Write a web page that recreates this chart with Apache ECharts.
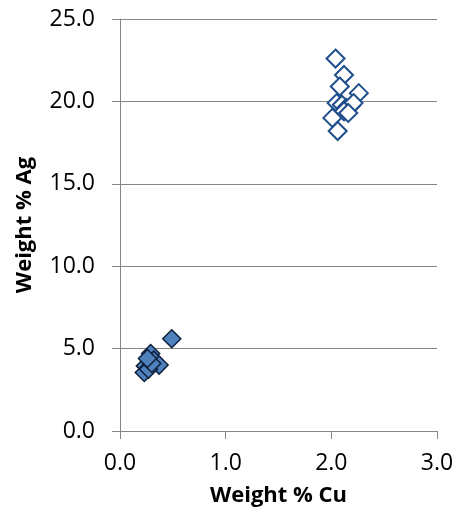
<!DOCTYPE html>
<html><head><meta charset="utf-8">
<script src="https://cdn.jsdelivr.net/npm/echarts@6/dist/echarts.min.js"></script>
<style>html,body{margin:0;padding:0;background:#fff}#c{width:462px;height:512px}</style>
</head><body><div id="c"></div>
<script>
var xTitle = 'Weight % Cu';
var yTitle = 'Weight % Ag';
var lowCu = [0.49, 0.29, 0.32, 0.24, 0.37, 0.23, 0.27, 0.30, 0.26];
var lowAg = [5.6, 4.7, 4.3, 3.95, 4.0, 3.55, 3.75, 4.1, 4.4];
var highCu = [2.04, 2.12, 2.08, 2.26, 2.05, 2.10, 2.14, 2.18, 2.21, 2.12, 2.16, 2.01, 2.06];
var highAg = [22.6, 21.6, 20.9, 20.5, 19.9, 19.8, 19.6, 19.7, 19.9, 19.4, 19.3, 19.0, 18.2];
function pairs(a, b){ return a.map(function(v,i){ return [v, b[i]]; }); }
var font = 'Open Sans';
var axisCol = '#868686';
var chart = echarts.init(document.getElementById('c'));
chart.setOption({
  animation: false,
  grid: {left: 120, right: 25, top: 19, bottom: 78},
  xAxis: {
    type: 'value', min: 0, max: 3, interval: 1,
    name: xTitle, nameLocation: 'middle', nameGap: 54,
    nameTextStyle: {fontFamily: font, fontSize: 22, fontWeight: 'bold', color: '#000'},
    axisLine: {show: true, onZero: false, lineStyle: {color: axisCol, width: 1}},
    axisTick: {show: true, length: 8, lineStyle: {color: axisCol}},
    axisLabel: {margin: 21, fontFamily: font, fontSize: 23, color: '#000', formatter: function(v){return v.toFixed(1);}},
    splitLine: {show: false}
  },
  yAxis: {
    type: 'value', min: 0, max: 25, interval: 5,
    name: yTitle, nameLocation: 'middle', nameGap: 84,
    nameTextStyle: {fontFamily: font, fontSize: 22, fontWeight: 'bold', color: '#000'},
    axisLine: {show: true, onZero: false, lineStyle: {color: axisCol, width: 1}},
    axisTick: {show: true, length: 8, lineStyle: {color: axisCol}},
    axisLabel: {margin: 25, fontFamily: font, fontSize: 23, color: '#000', formatter: function(v){return v.toFixed(1);}},
    splitLine: {show: true, lineStyle: {color: axisCol, width: 1}}
  },
  series: [
    {type: 'scatter', data: pairs(lowCu, lowAg), symbol: 'diamond', symbolSize: 18,
     itemStyle: {color: '#4F81BD', borderColor: '#0d1f3a', borderWidth: 1.5, opacity: 1}},
    {type: 'scatter', data: pairs(highCu, highAg), symbol: 'diamond', symbolSize: 18,
     itemStyle: {color: '#fff', borderColor: '#1F4E8C', borderWidth: 2, opacity: 1}}
  ]
});
</script></body></html>
